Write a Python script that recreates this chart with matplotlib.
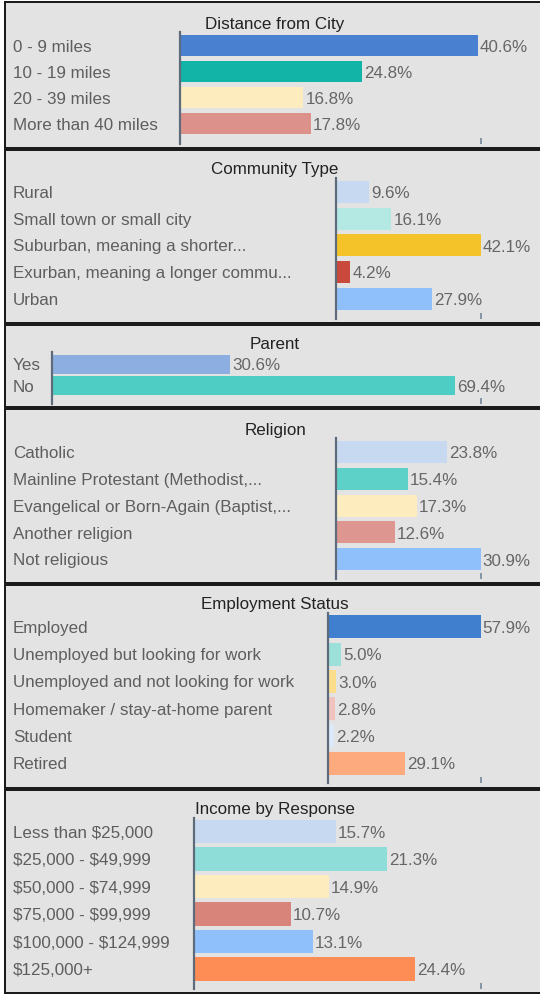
import matplotlib
matplotlib.use("Agg")
import matplotlib.pyplot as plt
from matplotlib.patches import Rectangle
from matplotlib import transforms

# ---------------- data ----------------
dist_title = "Distance from City"
dist_labels = ["0 - 9 miles", "10 - 19 miles", "20 - 39 miles", "More than 40 miles"]
dist_values = [40.6, 24.8, 16.8, 17.8]

comm_title = "Community Type"
comm_labels = ["Rural", "Small town or small city", "Suburban, meaning a shorter...",
               "Exurban, meaning a longer commu...", "Urban"]
comm_values = [9.6, 16.1, 42.1, 4.2, 27.9]

parent_title = "Parent"
parent_labels = ["Yes", "No"]
parent_values = [30.6, 69.4]

rel_title = "Religion"
rel_labels = ["Catholic", "Mainline Protestant (Methodist,...",
              "Evangelical or Born-Again (Baptist,...", "Another religion", "Not religious"]
rel_values = [23.8, 15.4, 17.3, 12.6, 30.9]

emp_title = "Employment Status"
emp_labels = ["Employed", "Unemployed but looking for work", "Unemployed and not looking for work",
              "Homemaker / stay-at-home parent", "Student", "Retired"]
emp_values = [57.9, 5.0, 3.0, 2.8, 2.2, 29.1]

inc_title = "Income by Response"
inc_labels = ["Less than $25,000", "$25,000 - $49,999", "$50,000 - $74,999",
              "$75,000 - $99,999", "$100,000 - $124,999", "$125,000+"]
inc_values = [15.7, 21.3, 14.9, 10.7, 13.1, 24.4]

# ---------------- styles ----------------
dist_colors = ["#4a80d0", "#12b4a8", "#fcecbe", "#dc928b"]
comm_colors = ["#c6d9f0", "#b4e8e3", "#f4c329", "#c94a3c", "#8fc0fc"]
parent_colors = ["#8daee0", "#4ecdc4"]
rel_colors = ["#c6d9f0", "#5dd0c8", "#fcecbe", "#de9690", "#8fc0fc"]
emp_colors = ["#3f7fce", "#9de0da", "#fbdd8a", "#f0c3be", "#dde9f8", "#fdaa7f"]
inc_colors = ["#c6d9f0", "#8fddd8", "#fcecbe", "#d8847a", "#8fc0fc", "#fe8c55"]

W, H = 540, 998
DPI = 100
plt.rcParams['font.family'] = ['Liberation Sans', 'DejaVu Sans']
FS = 17 * 72 / DPI  # 17 px text

fig = plt.figure(figsize=(W / DPI, H / DPI), dpi=DPI)
fig.patch.set_facecolor("white")


def fx(px):
    return px / W


def fy(py):
    return 1 - py / H


# layout per panel (pixel units)
panels = [
    dict(title=dist_title, labels=dist_labels, values=dist_values, colors=dist_colors,
         ptop=2, pbot=148, ty=23, ax_x=180, ax_top=32, ax_bot=144, first=45.7, sp=25.9, bar=21.5, xmax=41.0),
    dict(title=comm_title, labels=comm_labels, values=comm_values, colors=comm_colors,
         ptop=150, pbot=323, ty=168, ax_x=336, ax_top=178, ax_bot=319, first=191.7, sp=26.8, bar=22, xmax=42.2),
    dict(title=parent_title, labels=parent_labels, values=parent_values, colors=parent_colors,
         ptop=325, pbot=407, ty=342.7, ax_x=52, ax_top=352, ax_bot=404, first=364.3, sp=21.4, bar=18.5, xmax=73.8),
    dict(title=rel_title, labels=rel_labels, values=rel_values, colors=rel_colors,
         ptop=409, pbot=583, ty=428.3, ax_x=336, ax_top=438, ax_bot=579, first=451.7, sp=26.9, bar=22, xmax=31.0),
    dict(title=emp_title, labels=emp_labels, values=emp_values, colors=emp_colors,
         ptop=585, pbot=788, ty=603.3, ax_x=328, ax_top=613, ax_bot=783, first=626.7, sp=27.3, bar=23, xmax=58.0),
    dict(title=inc_title, labels=inc_labels, values=inc_values, colors=inc_colors,
         ptop=790, pbot=993, ty=808.3, ax_x=194, ax_top=818, ax_bot=989, first=831.7, sp=27.5, bar=23.5, xmax=31.7),
]

AX_RIGHT = 481
LABEL_X = 13
TITLE_X = 275
px2pt = 72 / DPI
TEXT_DY = 1.7  # px, shift text down so glyphs centre on the row

down = transforms.ScaledTranslation(0, -TEXT_DY / DPI, fig.dpi_scale_trans)

for p in panels:
    # panel background and frame
    rect = Rectangle((fx(5), fy(p["pbot"])), fx(560) - fx(5), fy(p["ptop"]) - fy(p["pbot"]),
                     transform=fig.transFigure, facecolor="#e3e3e3", edgecolor="#1c1c1c",
                     linewidth=2.0 * px2pt, zorder=0)
    fig.add_artist(rect)

    fig.text(fx(TITLE_X), fy(p["ty"]), p["title"], ha="center", va="center",
             fontsize=FS, color="#222222", zorder=5, transform=fig.transFigure + down)

    ax = fig.add_axes([fx(p["ax_x"]), fy(p["ax_bot"]),
                       fx(AX_RIGHT) - fx(p["ax_x"]), fy(p["ax_top"]) - fy(p["ax_bot"])])
    ax.set_facecolor("none")
    n = len(p["values"])
    ypos = list(range(n))
    ytop = (p["ax_top"] - p["first"]) / p["sp"]
    ybot = (p["ax_bot"] - p["first"]) / p["sp"]
    ax.set_ylim(ybot, ytop)
    ax.set_xlim(0, p["xmax"])
    ax.barh(ypos, p["values"], height=p["bar"] / p["sp"], color=p["colors"], zorder=1)

    for s in ["top", "right", "bottom"]:
        ax.spines[s].set_visible(False)
    ax.spines["left"].set_color("#5d6b7a")
    ax.spines["left"].set_linewidth(2.2 * px2pt)
    ax.set_yticks([])
    ax.set_xticks([p["xmax"]])
    ax.tick_params(axis="x", direction="in", length=6 * px2pt, width=2 * px2pt,
                   color="#8796a6", labelbottom=False)

    trans = transforms.blended_transform_factory(fig.transFigure, ax.transData) + down
    for i, (lab, v) in enumerate(zip(p["labels"], p["values"])):
        ax.text(fx(LABEL_X), i, lab, transform=trans, ha="left", va="center",
                fontsize=FS, color="#5e5e5e", parse_math=False, clip_on=False)
        ax.annotate(f"{v:.1f}%", xy=(v, i), xytext=(2 * px2pt, -TEXT_DY * px2pt),
                    textcoords="offset points",
                    ha="left", va="center", fontsize=FS, color="#666666",
                    annotation_clip=False)

fig.savefig("out.png", dpi=DPI)
